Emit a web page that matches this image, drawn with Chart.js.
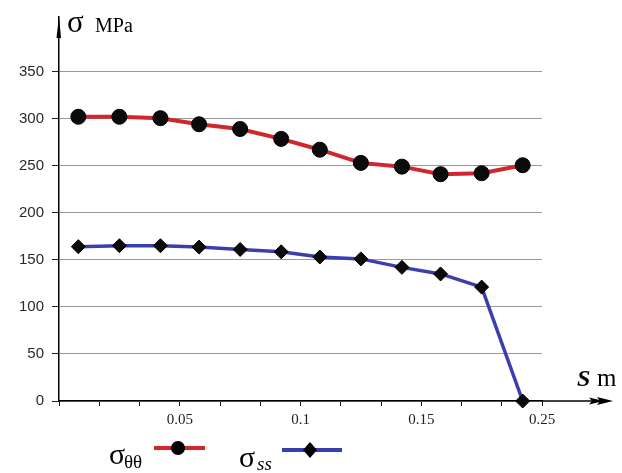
<!DOCTYPE html>
<html>
<head>
<meta charset="utf-8">
<script src="https://cdn.jsdelivr.net/npm/chart.js@4.4.1/dist/chart.umd.min.js"></script>
<style>
  html, body { margin: 0; padding: 0; background: #fff; }
  #wrap { width: 622px; height: 473px; }
</style>
</head>
<body>
<div id="wrap"><canvas id="stressChart"></canvas></div>
<script>
// s positions (m) of the computed points
const sPositions = [0.008, 0.025, 0.042, 0.058, 0.075, 0.092, 0.108, 0.125, 0.142, 0.158, 0.175, 0.192];
// hoop stress sigma_theta_theta (MPa)
const sigmaThetaTheta = [302, 302, 300.5, 294, 289, 278.5, 267, 253, 249, 241, 242, 250.5];
// meridional stress sigma_ss (MPa)
const sigmaSS = [164, 165, 165, 163.5, 161, 158.5, 153, 151, 142, 135, 121, 0];

const yTicks = [0, 50, 100, 150, 200, 250, 300, 350];
const sTickCount = 12;      // minor tick marks along s
const sMax = 0.2;
const sLabelValues = [0.05, 0.1, 0.15, 0.2];
const sLabelText = ['0.05', '0.1', '0.15', '0.25'];

const RED = '#cf272d';
const BLUE = '#3b3fae';

function toPoints(vals) {
  return vals.map((v, i) => ({ x: sPositions[i], y: v }));
}

const overlay = {
  id: 'overlay',
  afterDraw(chart) {
    const ctx = chart.ctx;
    const area = chart.chartArea;
    const y0 = chart.scales.y.getPixelForValue(0);
    ctx.save();

    // y axis arrow head
    ctx.fillStyle = '#000';
    ctx.beginPath();
    ctx.moveTo(area.left, area.top - 1);
    ctx.lineTo(area.left - 2.5, area.top + 21);
    ctx.lineTo(area.left + 2, area.top + 21);
    ctx.closePath();
    ctx.fill();

    // x axis extension + arrow
    ctx.strokeStyle = '#000';
    ctx.lineWidth = 1.5;
    ctx.beginPath();
    ctx.moveTo(area.right, y0);
    ctx.lineTo(606, y0);
    ctx.stroke();
    ctx.beginPath();
    ctx.moveTo(613, y0);
    ctx.lineTo(597, y0 - 4);
    ctx.lineTo(600, y0);
    ctx.lineTo(597, y0 + 4);
    ctx.closePath();
    ctx.fill();
    ctx.beginPath();
    ctx.moveTo(604, y0);
    ctx.lineTo(589, y0 - 3.5);
    ctx.lineTo(592, y0);
    ctx.lineTo(589, y0 + 3.5);
    ctx.closePath();
    ctx.fill();

    // axis titles
    ctx.fillStyle = '#000';
    ctx.textBaseline = 'alphabetic';
    ctx.textAlign = 'left';
    ctx.font = '31px "Liberation Serif", serif';
    ctx.fillText('σ', 67, 32);
    ctx.font = '20px "Liberation Serif", serif';
    ctx.fillText('MPa', 95, 32);
    ctx.font = 'bold italic 24px "Liberation Serif", serif';
    ctx.fillText('S', 577, 386);
    ctx.font = '25px "Liberation Serif", serif';
    ctx.fillText('m', 597, 386);

    // legend
    const ds = chart.data.datasets;
    ctx.font = '30px "Liberation Serif", serif';
    ctx.fillText('σ', 109, 464);
    ctx.font = '19px "Liberation Serif", serif';
    ctx.fillText('θθ', 124, 468);
    ctx.strokeStyle = ds[0].borderColor;
    ctx.lineWidth = 4;
    ctx.beginPath();
    ctx.moveTo(154, 448);
    ctx.lineTo(205, 448);
    ctx.stroke();
    ctx.fillStyle = '#000';
    ctx.beginPath();
    ctx.arc(178, 448, 7, 0, Math.PI * 2);
    ctx.fill();

    ctx.font = '30px "Liberation Serif", serif';
    ctx.fillText('σ', 239, 467);
    ctx.font = 'italic 19px "Liberation Serif", serif';
    ctx.fillText('ss', 257, 470);
    ctx.strokeStyle = ds[1].borderColor;
    ctx.beginPath();
    ctx.moveTo(282, 450);
    ctx.lineTo(342, 450);
    ctx.stroke();
    ctx.fillStyle = '#000';
    ctx.beginPath();
    ctx.moveTo(310, 442);
    ctx.lineTo(317, 450);
    ctx.lineTo(310, 458);
    ctx.lineTo(303, 450);
    ctx.closePath();
    ctx.fill();

    ctx.restore();
  }
};

new Chart(document.getElementById('stressChart'), {
  type: 'line',
  data: {
    datasets: [{
      label: 'σθθ',
      data: toPoints(sigmaThetaTheta),
      borderColor: RED,
      borderWidth: 4,
      pointStyle: 'circle',
      pointRadius: 7.5,
      pointBackgroundColor: '#0b0b0b',
      pointBorderColor: '#000',
      pointBorderWidth: 1,
      tension: 0,
      clip: false
    }, {
      label: 'σss',
      data: toPoints(sigmaSS),
      borderColor: BLUE,
      borderWidth: 3.5,
      pointStyle: 'rectRot',
      pointRadius: 7,
      pointBackgroundColor: '#0b0b0b',
      pointBorderColor: '#000',
      pointBorderWidth: 1,
      tension: 0,
      clip: false
    }]
  },
  options: {
    responsive: true,
    maintainAspectRatio: false,
    animation: false,
    layout: { padding: { left: 0, right: 80, top: 13, bottom: 0 } },
    plugins: {
      legend: { display: false },
      tooltip: { enabled: false }
    },
    scales: {
      x: {
        type: 'linear',
        min: 0,
        max: sMax,
        afterBuildTicks(axis) {
          axis.ticks = [];
          for (let k = 0; k <= sTickCount; k++) {
            axis.ticks.push({ value: k * sMax / sTickCount });
          }
        },
        afterFit(axis) { axis.height = 72; },
        ticks: {
          autoSkip: false,
          maxRotation: 0,
          padding: 5,
          color: '#222',
          font: { family: '"Liberation Serif", serif', size: 15 },
          callback(value) {
            const i = sLabelValues.findIndex(v => Math.abs(v - value) < 1e-6);
            return i >= 0 ? sLabelText[i] : '';
          }
        },
        grid: {
          drawOnChartArea: false,
          drawTicks: true,
          tickLength: 5,
          tickColor: '#111',
          tickWidth: 1
        },
        border: { display: true, color: '#000', width: 1.5 }
      },
      y: {
        min: 0,
        max: 408,
        afterBuildTicks(axis) {
          axis.ticks = yTicks.map(v => ({ value: v }));
        },
        afterFit(axis) { axis.width = 59; },
        ticks: {
          padding: 8,
          color: '#2a2a2a',
          font: { family: '"Liberation Sans", Arial, sans-serif', size: 15 }
        },
        grid: {
          color: '#9a9a9a',
          lineWidth: 1,
          drawTicks: true,
          tickLength: 7,
          tickColor: '#222'
        },
        border: { display: true, color: '#000', width: 1.5 }
      }
    }
  },
  plugins: [overlay]
});
</script>
</body>
</html>
